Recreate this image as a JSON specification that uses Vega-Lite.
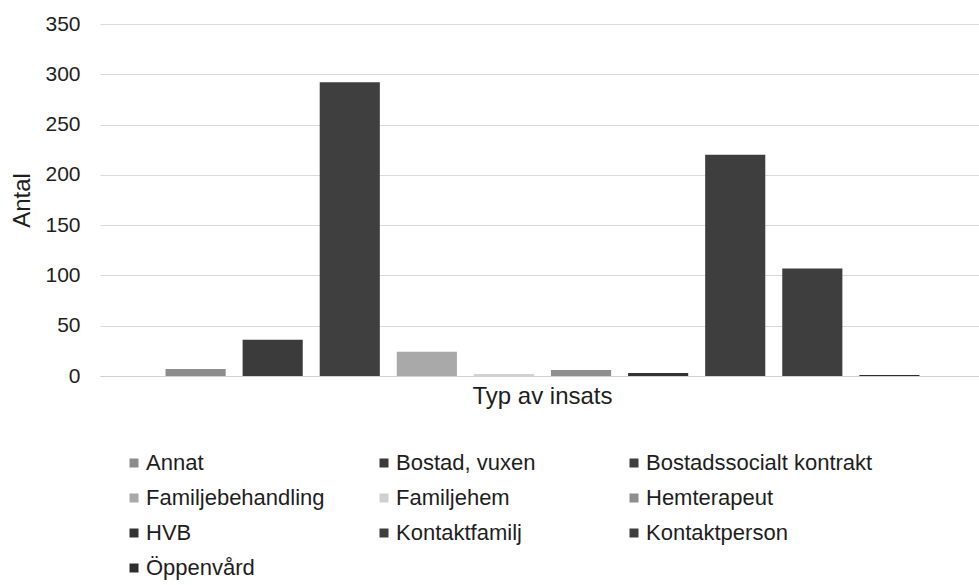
{
  "$schema": "https://vega.github.io/schema/vega-lite/v6.json",
  "autosize": "none",
  "width": 885,
  "height": 352,
  "padding": {"left": 100, "top": 24, "right": 0, "bottom": 209},
  "background": "white",
  "config": {
    "view": {"stroke": null},
    "font": "Liberation Sans"
  },
  "data": {
    "values": [
      {"typ": "Annat", "antal": 7},
      {"typ": "Bostad, vuxen", "antal": 36},
      {"typ": "Bostadssocialt kontrakt", "antal": 292},
      {"typ": "Familjebehandling", "antal": 24},
      {"typ": "Familjehem", "antal": 2},
      {"typ": "Hemterapeut", "antal": 6},
      {"typ": "HVB", "antal": 3},
      {"typ": "Kontaktfamilj", "antal": 220},
      {"typ": "Kontaktperson", "antal": 107},
      {"typ": "Öppenvård", "antal": 1}
    ]
  },
  "mark": {"type": "bar"},
  "encoding": {
    "x": {
      "field": "typ",
      "type": "nominal",
      "sort": null,
      "scale": {"paddingInner": 0.22, "paddingOuter": 0.85},
      "axis": {
        "title": "Typ av insats",
        "labels": false,
        "ticks": false,
        "domain": true,
        "domainColor": "#cfcfcf",
        "domainWidth": 1,
        "titleFont": "Liberation Sans",
        "titleFontSize": 24,
        "titleFontWeight": "normal",
        "titleColor": "#1e1e1e",
        "titlePadding": 8,
        "titleX": 442
      }
    },
    "y": {
      "field": "antal",
      "type": "quantitative",
      "scale": {"domain": [0, 350], "nice": false},
      "axis": {
        "title": "Antal",
        "values": [0, 50, 100, 150, 200, 250, 300, 350],
        "domain": false,
        "ticks": false,
        "grid": true,
        "gridColor": "#d9d9d9",
        "gridWidth": 1,
        "labelFont": "Liberation Sans",
        "labelFontSize": 21,
        "labelColor": "#1e1e1e",
        "labelPadding": 20,
        "titleFont": "Liberation Sans",
        "titleFontSize": 24,
        "titleFontWeight": "normal",
        "titleColor": "#1e1e1e",
        "titlePadding": 10
      }
    },
    "color": {
      "field": "typ",
      "type": "nominal",
      "sort": null,
      "scale": {
        "domain": ["Annat", "Bostad, vuxen", "Bostadssocialt kontrakt", "Familjebehandling", "Familjehem", "Hemterapeut", "HVB", "Kontaktfamilj", "Kontaktperson", "Öppenvård"],
        "range": ["#8d8d8d", "#3b3b3b", "#3f3f3f", "#a9a9a9", "#d0d0d0", "#8f8f8f", "#333333", "#3e3e3e", "#3e3e3e", "#2e2e2e"]
      },
      "legend": {
        "title": null,
        "orient": "none",
        "legendX": 23,
        "legendY": 428,
        "direction": "horizontal",
        "columns": 3,
        "gridAlign": "all",
        "columnPadding": 0,
        "rowPadding": 13,
        "symbolType": "square",
        "symbolSize": 81,
        "symbolStrokeWidth": 0,
        "symbolOffset": 0,
        "labelOffset": 1,
        "labelFont": "Liberation Sans",
        "labelFontSize": 22,
        "labelColor": "#1e1e1e",
        "labelLimit": 400
      }
    }
  }
}
